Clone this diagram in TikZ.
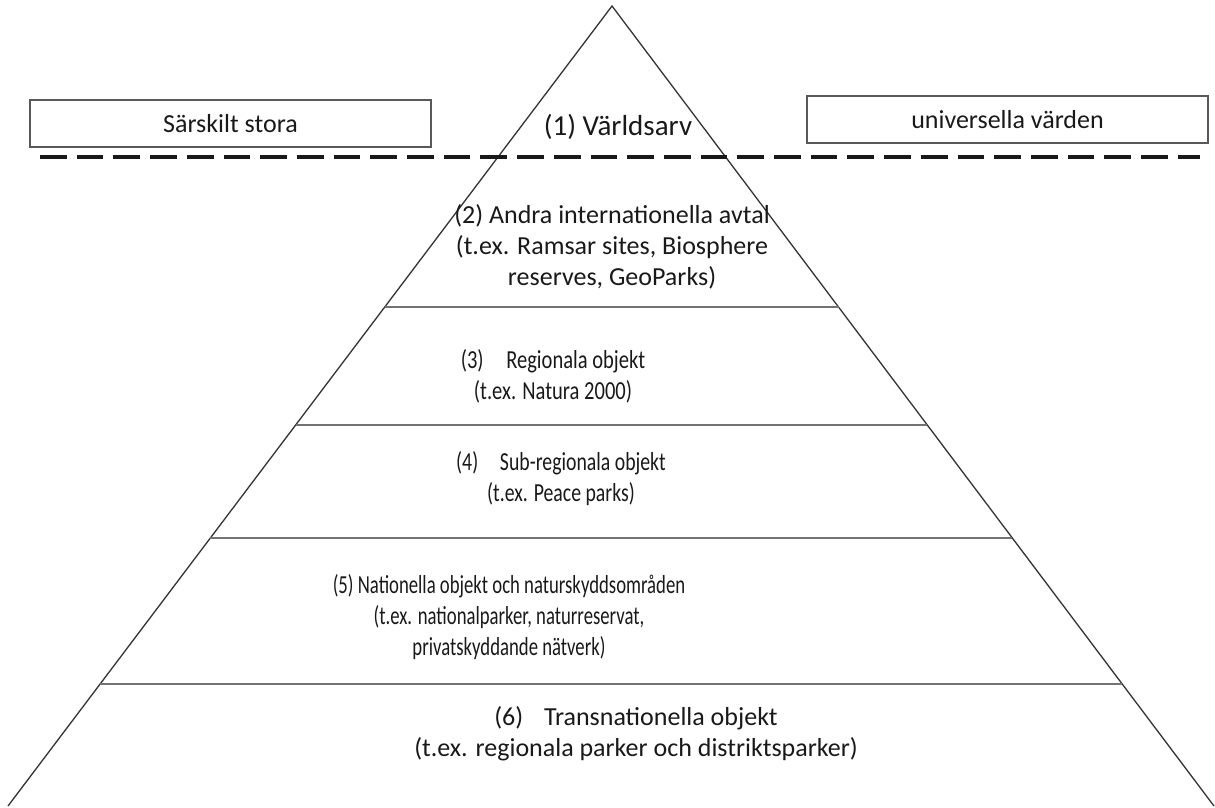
\documentclass[tikz,border=0pt]{standalone}
\usepackage{fontspec}
\usepackage{graphicx}
\setmainfont{Carlito}
\usetikzlibrary{calc}
\newcommand{\cnd}[2]{\scalebox{#1}[1]{#2}}
\begin{document}
\begin{tikzpicture}[x=1pt,y=-1pt,
  edge/.style={draw=black!80, line width=1.3pt},
  tier/.style={draw=black!55, line width=2pt},
  lbl/.style={font=\fontsize{26}{31}\selectfont, align=center, text=black!90, inner sep=0pt},
  toplbl/.style={font=\fontsize{29}{34}\selectfont, text=black!90, inner sep=0pt},
  sidebox/.style={draw=black!65, line width=1.5pt, font=\fontsize{26}{31}\selectfont, text=black!90, minimum width=401pt, minimum height=47pt, inner sep=0pt},
  divider/.style={draw=black!90, line width=4pt, dash pattern=on 26.7pt off 10pt}]
\useasboundingbox (0,0) rectangle (1215,807);
% pyramid
\coordinate (apex) at (612,6);
\coordinate (bl) at (8,806);
\coordinate (br) at (1214,806);
\draw[edge] (bl) -- (apex) -- (br);
\foreach \y [count=\i] in {307,425,538,684} {
  \coordinate (l\i) at ($(apex)!{(\y-6)/800}!(bl)$);
  \coordinate (r\i) at ($(apex)!{(\y-6)/800}!(br)$);
  \draw[tier] (l\i) -- (r\i);
}
% side boxes and divider
\node[sidebox] (leftbox) at (230.5,123.5) {Särskilt stora};
\node[sidebox] (rightbox) at (1007.5,119.5) {universella värden};
\coordinate (dl) at (40,157);
\coordinate (dr) at (1200,157);
\draw[divider] (dl) -- (dr);
% labels
\node[toplbl] (t1) at (618,127) {(1) Världsarv};
\node[lbl] (t2) at (612,247) {(2) Andra internationella avtal\\(t.ex. Ramsar sites, Biosphere\\reserves, GeoParks)};
\node[lbl] (t3) at (553,376) {\cnd{0.79}{(3)\hspace{1.1em}Regionala objekt}\\\cnd{0.79}{(t.ex. Natura 2000)}};
\node[lbl] (t4) at (561,479) {\cnd{0.76}{(4)\hspace{1.1em}Sub-regionala objekt}\\\cnd{0.76}{(t.ex. Peace parks)}};
\node[lbl] (t5) at (509,617) {\cnd{0.72}{(5) Nationella objekt och naturskyddsområden}\\\cnd{0.72}{(t.ex. nationalparker, naturreservat,}\\\cnd{0.72}{privatskyddande nätverk)}};
\node[lbl] (t6) at (636,734) {(6)\hspace{0.8em}Transnationella objekt\\(t.ex. regionala parker och distriktsparker)};
\end{tikzpicture}
\end{document}
